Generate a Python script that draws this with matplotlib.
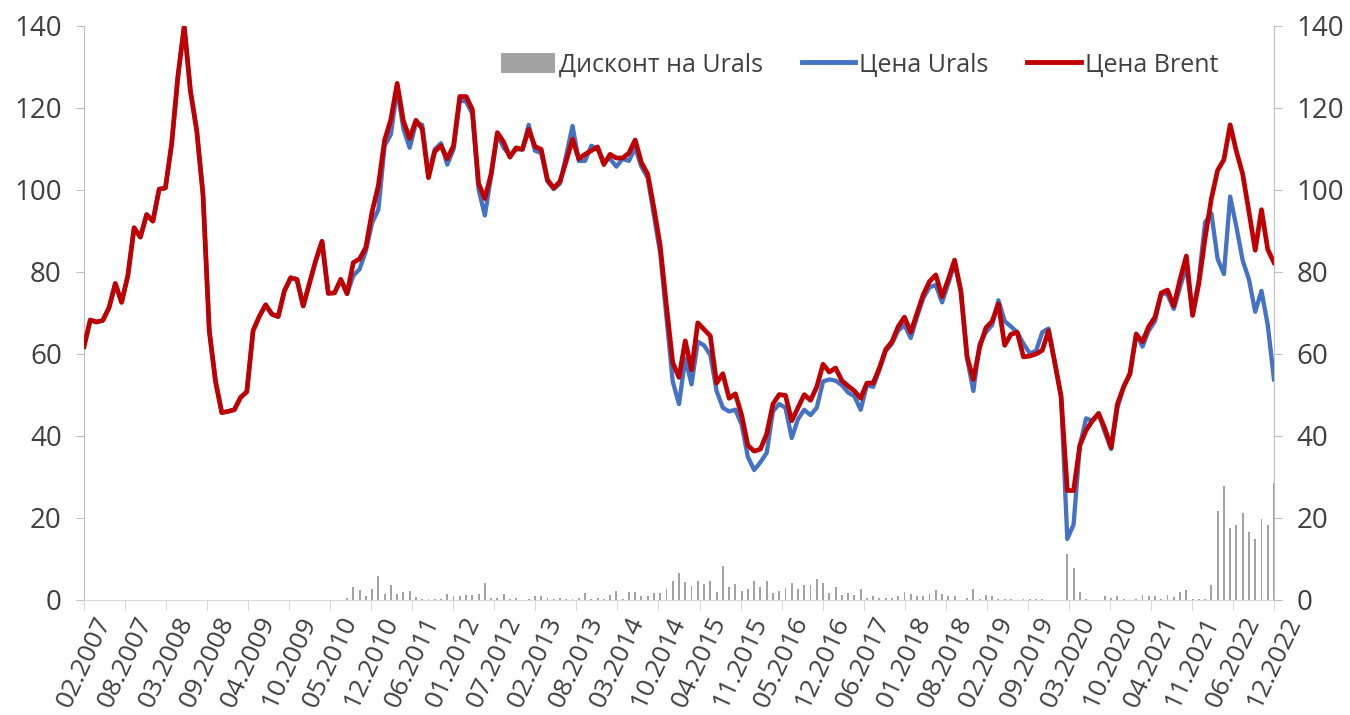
import matplotlib
matplotlib.use("Agg")
import matplotlib.pyplot as plt
import numpy as np
import pandas as pd
from matplotlib.patches import Patch
from matplotlib.lines import Line2D

# ---- data (monthly, 02.2007 .. 12.2022) ----
months = [p.strftime("%m.%Y") for p in pd.period_range("2007-02", "2022-12", freq="M")]

brent = [61.8, 68.3, 67.8, 68.2, 71.3, 77.2, 72.6, 79.1, 90.8, 88.5, 94.0, 92.4,
         100.2, 100.5, 111.3, 127.8, 140.0, 124.1, 114.5, 98.9, 65.7, 53.3, 45.7, 46.0,
         46.4, 49.4, 50.8, 65.7, 69.2, 72.0, 69.7, 69.1, 75.4, 78.6, 78.2, 71.7,
         77.2, 82.8, 87.5, 74.8, 74.9, 78.2, 74.7, 82.3, 83.2, 86.0, 94.7, 101.1,
         112.2, 117.2, 126.0, 116.8, 112.6, 117.0, 114.9, 103.0, 109.4, 110.8, 107.6, 110.8,
         122.8, 122.8, 119.7, 101.6, 97.9, 103.9, 114.0, 111.7, 108.0, 110.3, 109.9, 114.8,
         110.6, 109.9, 102.5, 100.5, 102.1, 107.1, 112.4, 107.6, 108.7, 109.6, 110.5, 106.2,
         108.7, 107.8, 107.8, 109.0, 112.2, 106.7, 103.9, 95.6, 86.4, 71.7, 57.9, 54.3,
         63.2, 56.1, 67.6, 66.0, 64.4, 52.9, 55.2, 49.2, 50.3, 45.1, 37.7, 36.3,
         36.8, 40.5, 47.8, 50.1, 49.9, 43.7, 46.9, 50.1, 48.7, 52.0, 57.5, 55.6,
         56.6, 53.5, 52.2, 51.0, 49.2, 52.9, 52.9, 56.6, 61.1, 63.0, 66.7, 69.0,
         65.3, 69.9, 74.5, 77.7, 79.3, 74.0, 78.2, 82.9, 75.4, 59.3, 53.8, 61.6,
         66.4, 68.0, 72.2, 62.1, 64.8, 65.3, 59.3, 59.5, 60.0, 60.9, 65.7, 57.9,
         49.7, 26.7, 26.7, 37.7, 41.4, 43.7, 45.5, 41.8, 37.2, 47.8, 52.0, 55.2,
         64.8, 63.0, 66.7, 69.0, 74.9, 75.6, 71.7, 78.2, 83.9, 69.4, 77.2, 88.3,
         97.9, 104.8, 107.4, 115.9, 109.4, 103.9, 94.7, 85.3, 95.2, 85.5, 82.3]

urals = [61.8, 68.3, 67.8, 68.2, 71.3, 77.2, 72.6, 79.1, 90.8, 88.5, 94.0, 92.4,
         100.2, 100.5, 111.3, 127.8, 140.0, 124.1, 114.5, 98.9, 65.7, 53.3, 45.7, 46.0,
         46.4, 49.4, 50.8, 65.7, 69.2, 72.0, 69.7, 69.1, 75.4, 78.6, 78.2, 71.7,
         77.2, 82.8, 87.5, 74.8, 74.9, 78.2, 74.7, 79.1, 80.7, 85.1, 92.0, 95.2,
         110.8, 113.6, 124.6, 114.9, 110.3, 116.3, 115.9, 103.4, 109.9, 111.4, 106.2, 109.9,
         121.8, 121.6, 118.6, 100.2, 93.8, 103.4, 113.6, 110.3, 108.5, 109.9, 109.9, 115.9,
         109.6, 109.0, 102.1, 100.2, 101.6, 108.5, 115.6, 107.1, 107.1, 110.8, 109.9, 107.1,
         107.6, 105.7, 107.6, 107.1, 110.3, 105.7, 103.0, 93.8, 84.6, 69.0, 53.3, 47.8,
         58.9, 52.6, 63.0, 62.1, 59.8, 51.0, 46.9, 46.0, 46.4, 42.8, 34.9, 31.7,
         33.6, 35.9, 46.0, 47.8, 46.9, 39.5, 44.1, 46.4, 45.1, 46.9, 53.3, 53.8,
         53.5, 52.4, 50.6, 49.7, 46.4, 52.4, 52.0, 56.1, 60.7, 62.5, 65.7, 67.1,
         63.9, 69.0, 73.6, 76.3, 76.8, 72.6, 77.2, 82.0, 75.4, 58.9, 51.0, 62.5,
         65.3, 67.1, 73.1, 68.0, 66.7, 65.3, 62.5, 60.2, 60.7, 65.3, 66.2, 57.9,
         49.7, 14.9, 18.4, 37.7, 44.3, 43.7, 45.5, 40.9, 36.8, 46.9, 52.0, 55.2,
         65.0, 61.8, 65.7, 68.0, 74.9, 74.5, 71.0, 76.3, 81.4, 69.9, 78.2, 92.1,
         94.3, 83.2, 79.5, 98.4, 91.0, 82.8, 78.2, 70.3, 75.4, 67.1, 53.8]

discount = [0.0] * 42 + [
    0.5, 3.2, 2.5, 0.9, 2.7, 5.9, 1.4, 3.6, 1.4, 1.9, 2.3, 0.7,
    0.2, 0.2, 0.3, 0.3, 1.4, 0.9, 1.0, 1.2, 1.1, 1.4, 4.1, 0.5,
    0.4, 1.4, 0.2, 0.4, 0.1, 0.2, 1.0, 0.9, 0.4, 0.3, 0.5, 0.2,
    0.2, 0.5, 1.6, 0.2, 0.6, 0.2, 1.1, 2.1, 0.2, 1.9, 1.9, 1.0,
    0.9, 1.8, 1.8, 2.7, 4.6, 6.5, 4.3, 3.5, 4.6, 3.9, 4.6, 1.9,
    8.3, 3.2, 3.9, 2.3, 2.8, 4.6, 3.2, 4.6, 1.8, 2.3, 3.0, 4.2,
    2.8, 3.7, 3.6, 5.1, 4.2, 1.8, 3.1, 1.1, 1.6, 1.3, 2.8, 0.5,
    0.9, 0.5, 0.4, 0.5, 1.0, 1.9, 1.4, 0.9, 0.9, 1.4, 2.5, 1.4,
    1.0, 0.9, 0.1, 0.4, 2.8, 0.2, 1.1, 0.9, 0.2, 0.3, 0.2, 0.1,
    0.3, 0.2, 0.2, 0.2, 0.1, 0.1, 0.1, 11.2, 7.8, 2.0, 0.2, 0.1,
    0.1, 0.9, 0.4, 0.9, 0.2, 0.1, 0.2, 1.2, 1.0, 1.0, 0.2, 1.1,
    0.7, 1.9, 2.5, 0.2, 0.2, 0.3, 3.6, 21.6, 27.9, 17.5, 18.4, 21.1,
    16.5, 15.0, 19.8, 18.4, 28.5]

tick_labels = ["02.2007", "08.2007", "03.2008", "09.2008", "04.2009", "10.2009",
               "05.2010", "12.2010", "06.2011", "01.2012", "07.2012", "02.2013",
               "08.2013", "03.2014", "10.2014", "04.2015", "11.2015", "05.2016",
               "12.2016", "06.2017", "01.2018", "08.2018", "02.2019", "09.2019",
               "03.2020", "10.2020", "04.2021", "11.2021", "06.2022", "12.2022"]

series_names = ["Дисконт на Urals", "Цена Urals", "Цена Brent"]

# ---- styling ----
FONT = ["Open Sans", "DejaVu Sans"]
plt.rcParams["font.family"] = FONT
TXT = "#404040"
AXC = "#bfbfbf"
C_BAR = "#a3a3a3"
C_URALS = "#4472C4"
C_BRENT = "#C00000"

x = np.arange(len(months))
# date-axis style ticks: evenly spaced across the span
tick_pos = np.linspace(0, len(months) - 1, len(tick_labels))

fig = plt.figure(figsize=(13.5, 7.15), dpi=100)
ax = fig.add_axes([84 / 1350, 1 - 600 / 715, (1274 - 84) / 1350, (600 - 26) / 715])

ax.bar(x, np.clip(discount, 0, None), width=0.3, color=C_BAR, zorder=1)
ax.plot(x, urals, color=C_URALS, lw=3.1, solid_joinstyle="round", zorder=2)
ax.plot(x, brent, color=C_BRENT, lw=3.4, solid_joinstyle="round", zorder=3)

ax.set_xlim(0, len(months) - 1)
ax.set_ylim(0, 140)
ax.set_yticks(np.arange(0, 141, 20))
ax.set_xticks(tick_pos)
ax.set_xticklabels(tick_labels, rotation=65, ha="center", va="top")

ax2 = ax.twinx()
ax2.set_ylim(0, 140)
ax2.set_yticks(np.arange(0, 141, 20))

for a in (ax, ax2):
    for s in a.spines.values():
        s.set_visible(False)
ax.spines["left"].set_visible(True)
ax.spines["left"].set_color(AXC)
ax.spines["bottom"].set_visible(True)
ax.spines["bottom"].set_color("#d9d9d9")
ax2.spines["right"].set_visible(True)
ax2.spines["right"].set_color(AXC)

ax.tick_params(axis="y", direction="out", length=6, color=AXC, labelsize=20,
               labelcolor=TXT, pad=10)
ax2.tick_params(axis="y", direction="out", length=6, color=AXC, labelsize=20,
                labelcolor=TXT, pad=10)
ax.tick_params(axis="x", direction="out", length=7, color="#d9d9d9", labelsize=19,
               labelcolor=TXT, pad=2)

handles = [Patch(facecolor=C_BAR, edgecolor="none"),
           Line2D([], [], color=C_URALS, lw=3.5),
           Line2D([], [], color=C_BRENT, lw=3.5)]
leg = ax.legend(handles, series_names, loc="center right", bbox_to_anchor=(0.953, 0.932),
                ncol=3, frameon=False, fontsize=18, handlelength=2.15, handleheight=0.85,
                handletextpad=0.15, columnspacing=1.55, borderaxespad=0, borderpad=0,
                labelcolor=TXT)

fig.savefig("out.png", dpi=100)
